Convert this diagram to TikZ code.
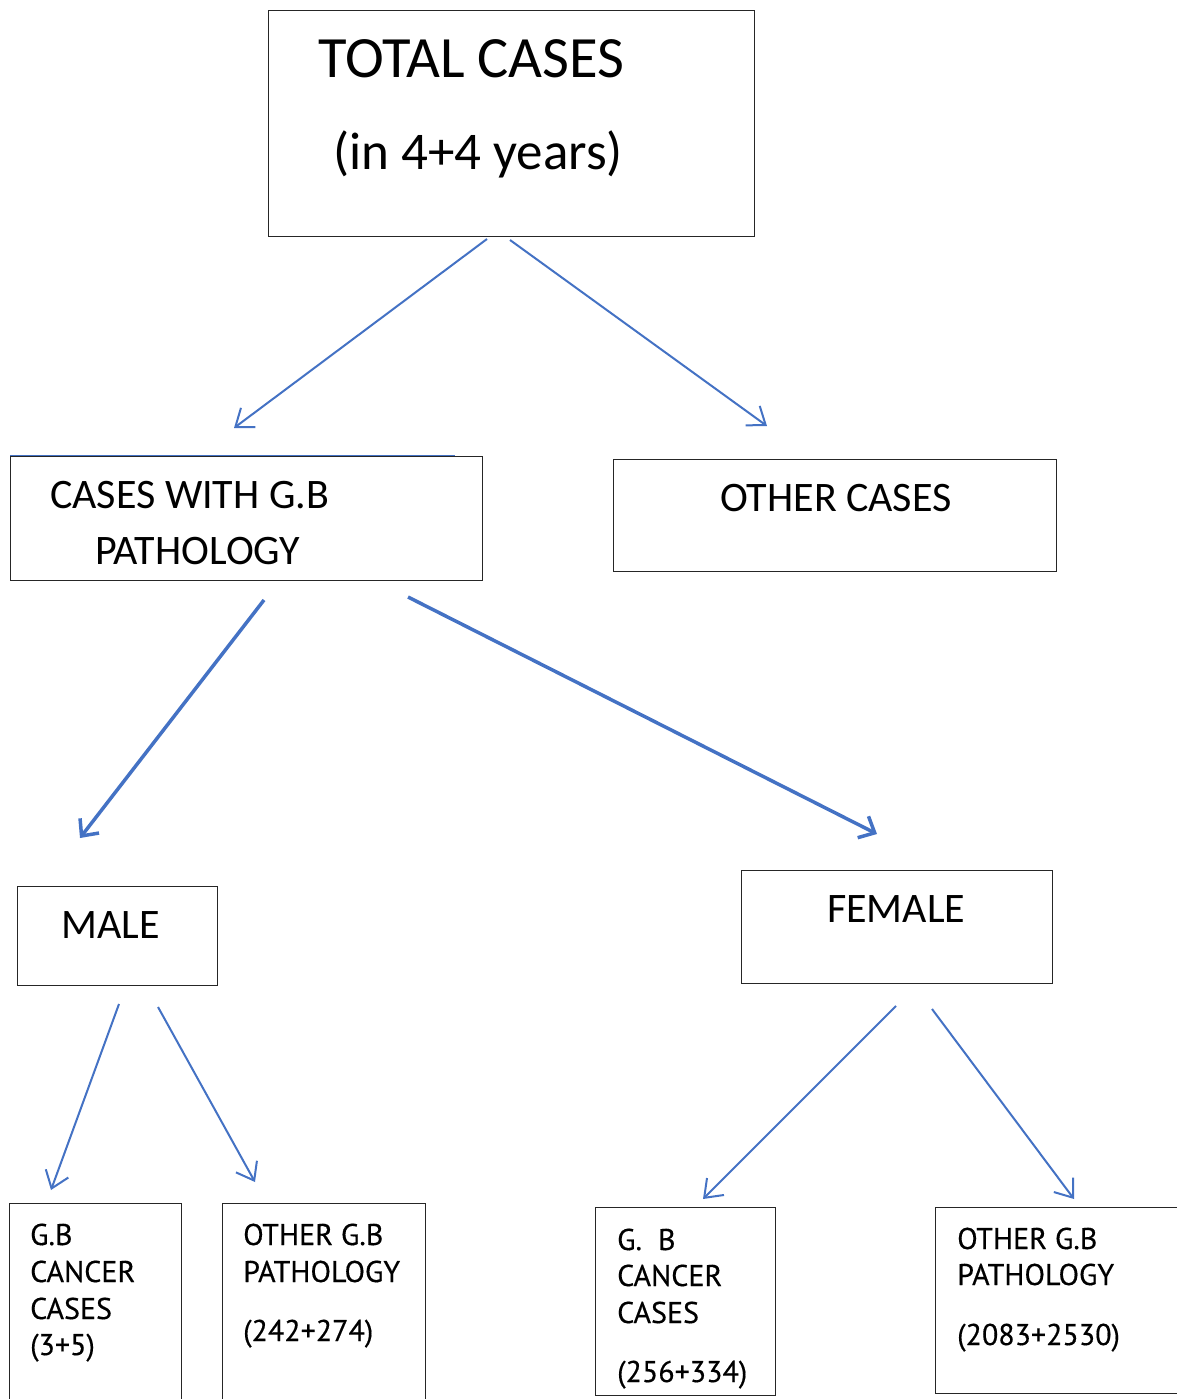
\documentclass[tikz,border=0pt]{standalone}
\usepackage{fontspec}
\setmainfont{Carlito}
\newfontfamily\dinfont[FakeBold=0.4]{PT Sans}
\usetikzlibrary{arrows.meta}
\definecolor{arrowblue}{HTML}{4472C4}
\tikzset{
  box/.style={draw=black!85, line width=1.2pt, inner sep=0pt, anchor=north west},
  lbl/.style={anchor=base west, inner sep=0pt},
  big/.style={lbl, font=\fontsize{58.5}{62}\selectfont},
  mid/.style={lbl, font=\fontsize{42}{48}\selectfont},
  small/.style={lbl, font=\dinfont\fontsize{30}{34}\selectfont},
  thinarrow/.style={draw=arrowblue, line width=2pt, -{Straight Barb[length=16pt,width=24pt,line width=2pt]}},
  thickarrow/.style={draw=arrowblue, line width=3.5pt, -{Straight Barb[length=13pt,width=24pt,line width=3.5pt]}}
}
\begin{document}
\begin{tikzpicture}[x=1pt,y=-1pt]
\useasboundingbox (0,0) rectangle (1176,1399);
% boxes
\node[box, minimum width=486pt, minimum height=226pt] (total) at (268,10) {};
\node[box, minimum width=472pt, minimum height=124pt] (gbp) at (10,456) {};
\draw[arrowblue, line width=1pt] (10,455) -- (455,455);
\node[box, minimum width=443pt, minimum height=112pt] (other) at (613,459) {};
\node[box, minimum width=200pt, minimum height=99pt] (male) at (17,886) {};
\node[box, minimum width=311pt, minimum height=113pt] (female) at (741,870) {};
\node[box, minimum width=172pt, minimum height=220pt] (mc) at (9,1203) {};
\node[box, minimum width=203pt, minimum height=220pt] (mo) at (222,1203) {};
\node[box, minimum width=180pt, minimum height=188pt] (fc) at (595,1207) {};
\node[box, minimum width=260pt, minimum height=186pt] (fo) at (935,1207) {};
% texts
\node[big] (t1) at (318,78) {TOTAL CASES};
\node[lbl, font=\fontsize{53}{58}\selectfont] (t2) at (333,170) {(in 4+4 years)};
\node[mid] (g1) at (50,508) {CASES WITH G.B};
\node[mid] (g2) at (95,564) {PATHOLOGY};
\node[mid] (o1) at (720,511) {OTHER CASES};
\node[mid] (m1) at (61,938) {MALE};
\node[mid] (f1) at (827,922) {FEMALE};
\node[small] (a1) at (30,1245) {G.B};
\node[small] (a2) at (30,1282) {CANCER};
\node[small] (a3) at (30,1319) {CASES};
\node[small] (a4) at (30,1355) {(3+5)};
\node[small] (b1) at (243,1245) {OTHER G.B};
\node[small] (b2) at (243,1282) {PATHOLOGY};
\node[small] (b3) at (243,1341) {(242+274)};
\node[small] (c1) at (617,1250) {G.\ \ B};
\node[small] (c2) at (617,1286) {CANCER};
\node[small] (c3) at (617,1323) {CASES};
\node[small] (c4) at (617,1382) {(256+334)};
\node[small] (d1) at (957,1249) {OTHER G.B};
\node[small] (d2) at (957,1285) {PATHOLOGY};
\node[small] (d3) at (957,1345) {(2083+2530)};
% arrow endpoints
\coordinate (s1) at (487,239); \coordinate (e1) at (234,428);
\coordinate (s2) at (510,240); \coordinate (e2) at (767,426);
\coordinate (s3) at (264,600); \coordinate (e3) at (80,838);
\coordinate (s4) at (408,597); \coordinate (e4) at (877,834);
\coordinate (s5) at (119,1004); \coordinate (e5) at (51,1190);
\coordinate (s6) at (158,1007); \coordinate (e6) at (255,1182);
\coordinate (s7) at (896,1006); \coordinate (e7) at (703,1199);
\coordinate (s8) at (932,1009); \coordinate (e8) at (1074,1199);
\draw[thinarrow] (s1) -- (e1);
\draw[thinarrow] (s2) -- (e2);
\draw[thickarrow] (s3) -- (e3);
\draw[thickarrow] (s4) -- (e4);
\draw[thinarrow] (s5) -- (e5);
\draw[thinarrow] (s6) -- (e6);
\draw[thinarrow] (s7) -- (e7);
\draw[thinarrow] (s8) -- (e8);
\end{tikzpicture}
\end{document}
